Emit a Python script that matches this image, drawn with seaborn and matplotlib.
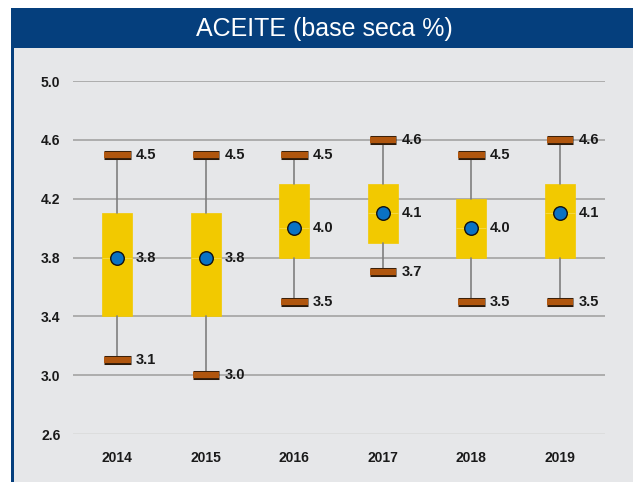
import seaborn as sns
import pandas as pd
from matplotlib import pyplot as plt
from matplotlib import patheffects as pe
from matplotlib.patches import Rectangle

years = ['2014', '2015', '2016', '2017', '2018', '2019']
mins = [3.1, 3.0, 3.5, 3.7, 3.5, 3.5]
q1s = [3.4, 3.4, 3.8, 3.9, 3.8, 3.8]
means = [3.8, 3.8, 4.0, 4.1, 4.0, 4.1]
q3s = [4.1, 4.1, 4.3, 4.3, 4.2, 4.3]
maxs = [4.5, 4.5, 4.5, 4.6, 4.5, 4.6]
yticks = [2.6, 3.0, 3.4, 3.8, 4.2, 4.6, 5.0]

BG = '#e6e7e9'
NAVY = '#053f7d'

sns.set_style('white')
plt.rcParams['font.family'] = ['Liberation Sans', 'DejaVu Sans']

fig = plt.figure(figsize=(6.33, 4.82), dpi=100)
fig.patch.set_facecolor('white')

# grey panel + navy frame
fig.patches.append(Rectangle((14 / 633, 0), 1, 1 - 48 / 482, transform=fig.transFigure,
                             facecolor=BG, edgecolor='none', zorder=-2))
fig.patches.append(Rectangle((11 / 633, 0), 3 / 633, 1 - 48 / 482, transform=fig.transFigure,
                             facecolor=NAVY, edgecolor='none', zorder=-2))
fig.patches.append(Rectangle((11 / 633, 1 - 48 / 482), 1, 40 / 482, transform=fig.transFigure,
                             facecolor=NAVY, edgecolor='none', zorder=-2))
fig.text(324 / 633, 1 - 29 / 482, 'ACEITE (base seca %)', color='white', fontsize=18,
         ha='center', va='center')

ax = fig.add_axes([73 / 633, 1 - 434 / 482, 532 / 633, 353 / 482])
ax.set_facecolor(BG)

stats = [dict(label=y, whislo=lo, q1=a, med=m, q3=b, whishi=hi, mean=m)
         for y, lo, a, m, b, hi in zip(years, mins, q1s, means, q3s, maxs)]

cap_fx = [pe.Stroke(linewidth=6.5, foreground='#2b1a0a'), pe.Normal()]
ax.bxp(stats, positions=range(len(years)), widths=0.34, capwidths=0.3,
       patch_artist=True, showfliers=False, showmeans=False,
       boxprops=dict(facecolor='#f2c900', edgecolor='#f2c900', linewidth=0.5),
       medianprops=dict(color='#f6da4a', linewidth=0.6),
       whiskerprops=dict(color='#7f7f7f', linewidth=1.2),
       capprops=dict(color='#b0560e', linewidth=4.5, path_effects=cap_fx,
                     solid_capstyle='butt'),
       zorder=3)

df = pd.DataFrame({'year': years, 'mean': means})
sns.scatterplot(data=df, x='year', y='mean', ax=ax, s=95, color='#0a72c4',
                edgecolor='#111111', linewidth=1.0, zorder=5)

lab = dict(fontsize=10.5, fontweight='bold', color='#1a1a1a', va='center', ha='left', zorder=6)
for i in range(len(years)):
    ax.text(i + 0.21, maxs[i], f'{maxs[i]:.1f}', **lab)
    ax.text(i + 0.21, means[i], f'{means[i]:.1f}', **lab)
    ax.text(i + 0.21, mins[i], f'{mins[i]:.1f}', **lab)

ax.set_xlim(-0.5, 5.51)
ax.set_ylim(2.6, 5.0)
ax.set_yticks(yticks)
ax.set_yticklabels([f'{v:.1f}' for v in yticks])
ax.set_xticks(range(len(years)))
ax.set_xticklabels(years)
ax.set_xlabel('')
ax.set_ylabel('')
for t in ax.get_xticklabels() + ax.get_yticklabels():
    t.set_fontweight('bold')
    t.set_fontsize(10)
    t.set_color('#1a1a1a')
ax.tick_params(axis='y', length=0, pad=9)
ax.tick_params(axis='x', length=0, pad=12)
ax.yaxis.grid(True, color='#9d9d9d', linewidth=1.1, zorder=1)
ax.set_axisbelow(True)
ax.get_ygridlines()[0].set_color('#dadada')
sns.despine(ax=ax, left=True, bottom=True)

fig.savefig('out.png', dpi=100, facecolor=fig.get_facecolor())
plt.close(fig)
